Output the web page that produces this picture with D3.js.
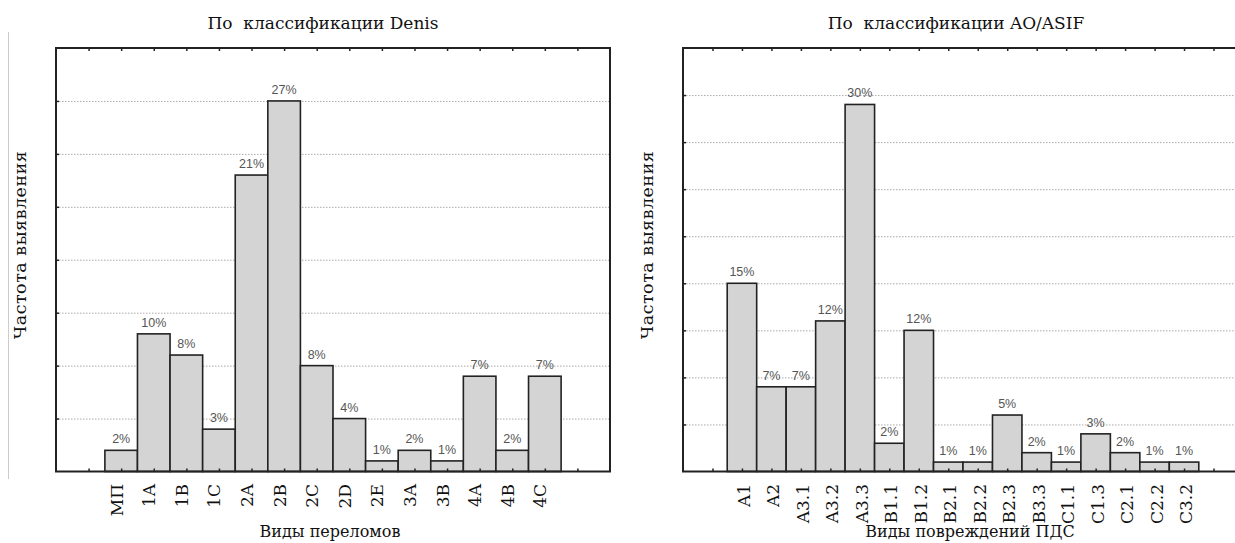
<!DOCTYPE html>
<html>
<head>
<meta charset="utf-8">
<script src="https://cdnjs.cloudflare.com/ajax/libs/d3/7.8.5/d3.min.js"></script>
<style>
    body { margin:0; background:#fff; }
    svg { display:block; }
    .serif { font-family:"DejaVu Serif","Liberation Serif", serif; fill:#111; white-space:pre; }
    .pct   { font-family:"Liberation Sans", Arial, sans-serif; fill:#555; font-size:12.5px; }
    .grid line { stroke:#aaa; stroke-dasharray:1.5,1.5; }
    .tk line { stroke:#222; stroke-width:1.5; }
</style>
</head>
<body>
<svg id="chart" width="1235" height="543"></svg>
<script>
//Denis classification (counts, labels as printed)
var denisCats   = ["МП","1A","1B","1C","2A","2B","2C","2D","2E","3A","3B","4A","4B","4C"];
var denisCounts = [2,13,11,4,28,35,10,5,1,2,1,9,2,9];
var denisPct    = ["2%","10%","8%","3%","21%","27%","8%","4%","1%","2%","1%","7%","2%","7%"];
var denisTicks  = [5,10,15,20,25,30,35];

//AO/ASIF classification
var aoCats   = ["A1","A2","A3.1","A3.2","A3.3","B1.1","B1.2","B2.1","B2.2","B2.3","B3.3","C1.1","C1.3","C2.1","C2.2","C3.2"];
var aoCounts = [20,9,9,16,39,3,15,1,1,6,2,1,4,2,1,1];
var aoPct    = ["15%","7%","7%","12%","30%","2%","12%","1%","1%","5%","2%","1%","3%","2%","1%","1%"];
var aoTicks  = [5,10,15,20,25,30,35,40];

var svg = d3.select('#chart');

//left edge line of the original picture
svg.append('line')
    .attr('x1',8.5).attr('x2',8.5)
    .attr('y1',32).attr('y2',479)
    .attr('stroke','#ccc').attr('stroke-width',1);

drawChart({
     cats     : denisCats
    ,counts   : denisCounts
    ,pct      : denisPct
    ,ticks    : denisTicks
    ,ymax     : 40
    ,left     : 56
    ,right    : 610
    ,title    : "По  классификации Denis"
    ,xtitle   : "Виды переломов"
    ,titleX   : 323
    ,xtitleX  : 330
    ,lblShift : 1.5
});

drawChart({
     cats     : aoCats
    ,counts   : aoCounts
    ,pct      : aoPct
    ,ticks    : aoTicks
    ,ymax     : 45
    ,left     : 683
    ,right    : 1243
    ,title    : "По  классификации AO/ASIF"
    ,xtitle   : "Виды повреждений ПДС"
    ,titleX   : 956
    ,xtitleX  : 970
    ,lblShift : 8
});

/**
 * Draw one framed bar chart
 *
 * @param c chart settings and data
 */
function drawChart(c)
{
    var top = 48, bottom = 471.5;
    var n   = c.cats.length;

    //one empty slot before and after the bars, as in the original
    var x = d3.scaleLinear().domain([0,n+3]).range([c.left,c.right]);
    var y = d3.scaleLinear().domain([0,c.ymax]).range([bottom,top]);
    var step = x(1)-x(0);
    var tickPos = d3.range(1,n+3);

    var g = svg.append('g');

    //dotted grid
    g.append('g')
        .attr('class','grid')
        .attr('transform','translate('+c.left+',0)')
        .call(d3.axisLeft(y).tickValues(c.ticks).tickSize(-(c.right-c.left)).tickFormat(''))
        .call(function(s){ s.select('.domain').remove(); });

    //bars
    g.selectAll('rect.bar')
        .data(c.counts)
        .enter().append('rect')
        .attr('class','bar')
        .attr('x',function(d,i){ return x(i+2)-step/2; })
        .attr('y',function(d){ return y(d); })
        .attr('width',step)
        .attr('height',function(d){ return bottom-y(d); })
        .attr('fill','#d4d4d4')
        .attr('stroke','#222')
        .attr('stroke-width',1.6);

    //percent labels above bars
    g.selectAll('text.pct')
        .data(c.counts)
        .enter().append('text')
        .attr('class','pct')
        .attr('x',function(d,i){ return x(i+2); })
        .attr('y',function(d){ return y(d)-7; })
        .attr('text-anchor','middle')
        .text(function(d,i){ return c.pct[i]; });

    //inward ticks on the frame
    var noDomain = function(s){ s.select('.domain').remove(); };
    g.append('g').attr('class','tk')
        .attr('transform','translate(0,'+top+')')
        .call(d3.axisTop(x).tickValues(tickPos).tickSize(-3).tickFormat(''))
        .call(noDomain);
    g.append('g').attr('class','tk')
        .attr('transform','translate(0,'+bottom+')')
        .call(d3.axisBottom(x).tickValues(tickPos).tickSize(-3).tickFormat(''))
        .call(noDomain);
    g.append('g').attr('class','tk')
        .attr('transform','translate('+c.left+',0)')
        .call(d3.axisLeft(y).tickValues(c.ticks).tickSize(-3).tickFormat(''))
        .call(noDomain);

    //frame
    g.append('rect')
        .attr('x',c.left).attr('y',top)
        .attr('width',c.right-c.left).attr('height',bottom-top)
        .attr('fill','none')
        .attr('stroke','#222')
        .attr('stroke-width',2);

    //category labels, rotated
    g.selectAll('text.cat')
        .data(c.cats)
        .enter().append('text')
        .attr('class','serif')
        .attr('font-size','17px')
        .attr('text-anchor','end')
        .attr('transform',function(d,i){ return 'translate('+(x(i+2)+c.lblShift)+',484) rotate(-90)'; })
        .text(function(d){ return d; });

    //titles
    g.append('text')
        .attr('class','serif')
        .attr('font-size','17px')
        .attr('x',c.titleX).attr('y',28.5)
        .attr('text-anchor','middle')
        .text(c.title);

    g.append('text')
        .attr('class','serif')
        .attr('font-size','16px')
        .attr('x',c.xtitleX).attr('y',537)
        .attr('text-anchor','middle')
        .text(c.xtitle);

    g.append('text')
        .attr('class','serif')
        .attr('font-size','17.5px')
        .attr('letter-spacing','0.5px')
        .attr('text-anchor','middle')
        .attr('transform','translate('+(c.left-30)+',245) rotate(-90)')
        .text("Частота выявления");
}
</script>
</body>
</html>
